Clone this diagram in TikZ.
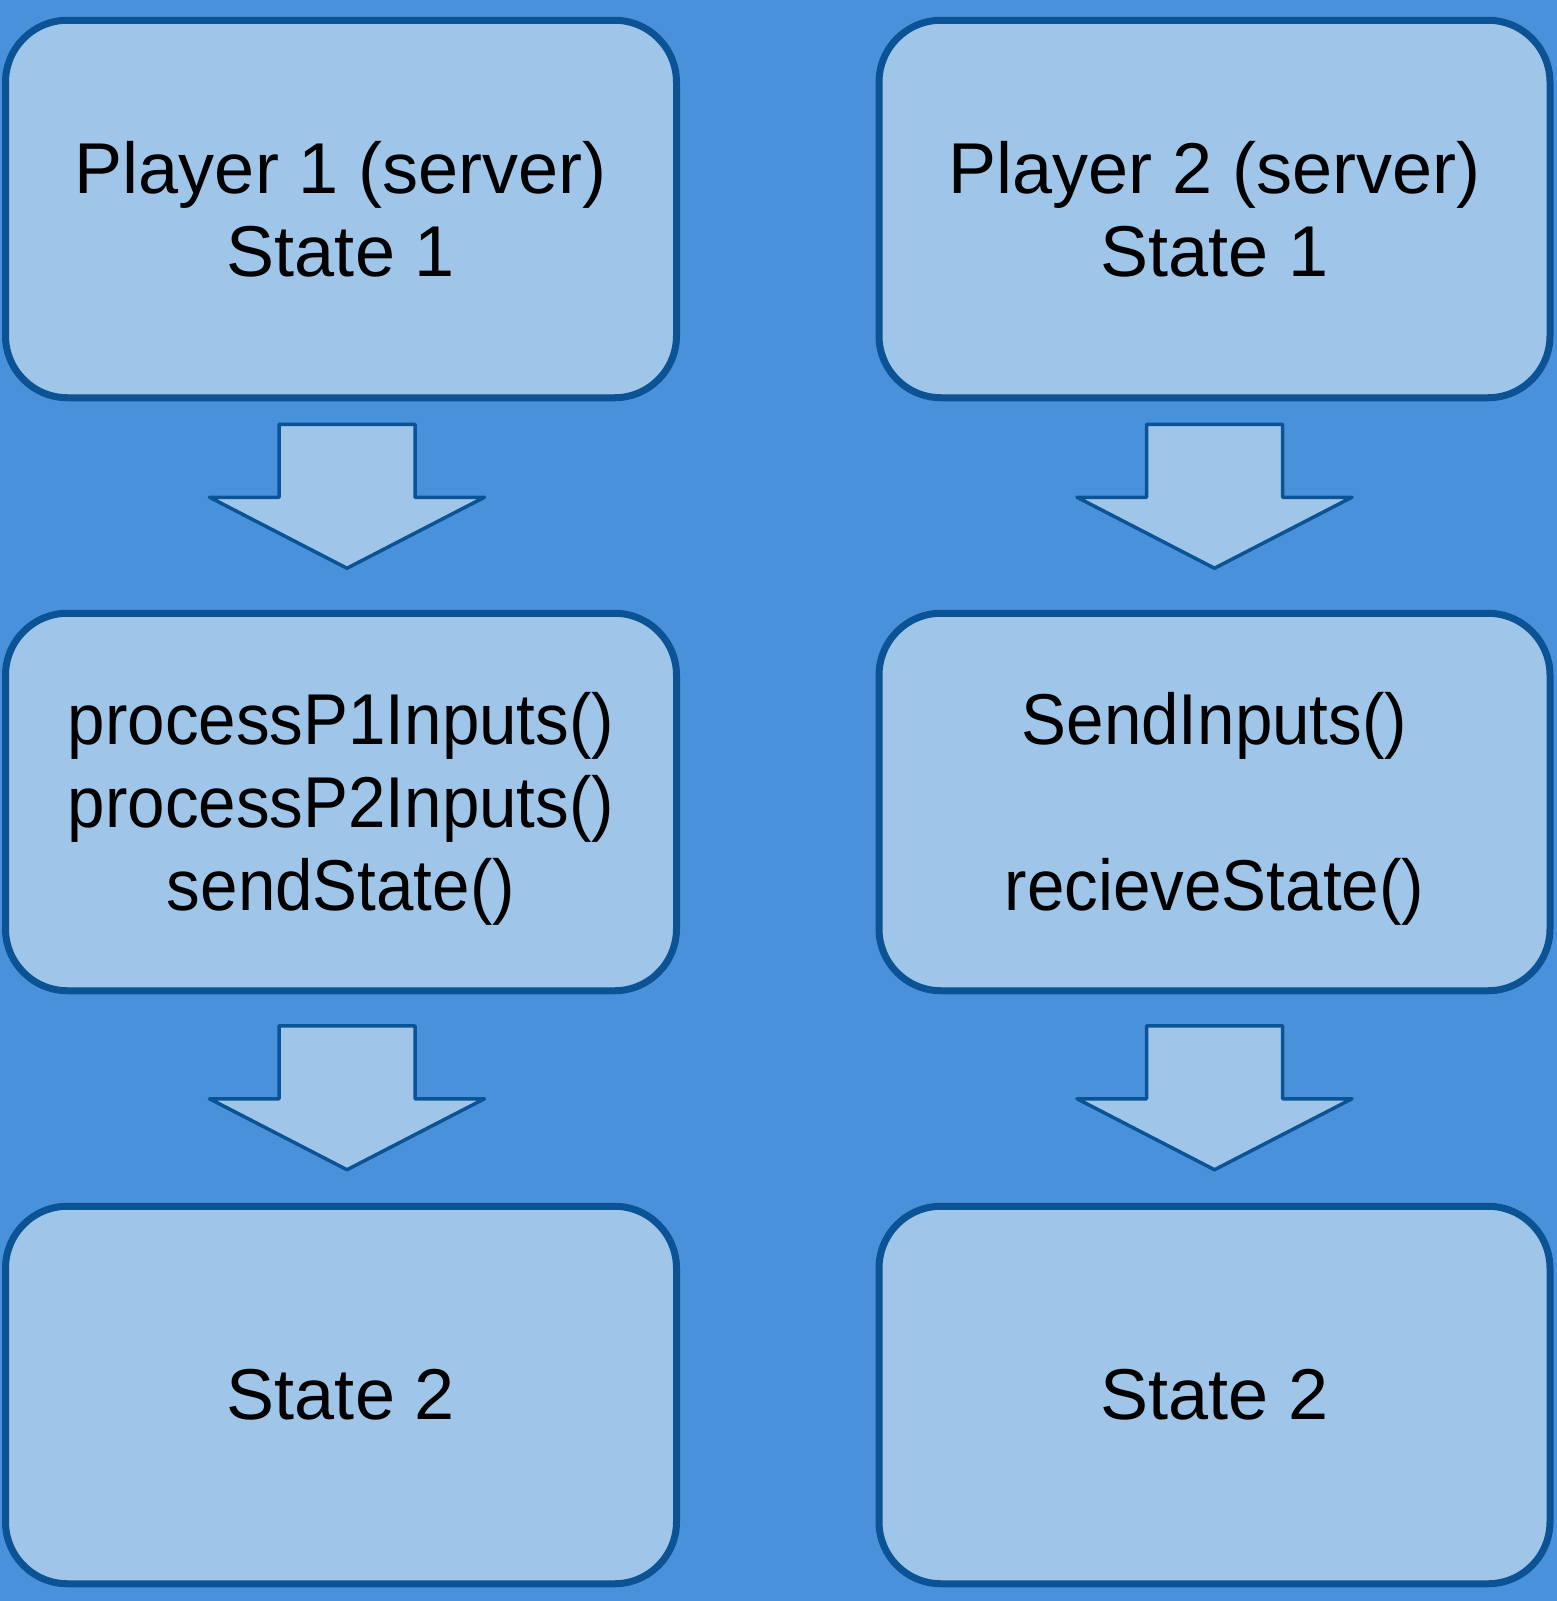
\documentclass[tikz,border=0pt]{standalone}
\usepackage{fontspec}
\setmainfont{Liberation Sans}
\newfontfamily\callfont[FakeStretch=0.935]{Liberation Sans}
\usepackage{tikz}
\usetikzlibrary{positioning, calc}
\definecolor{pagebg}{HTML}{4A91DC}
\definecolor{boxfill}{HTML}{9FC5E8}
\definecolor{boxline}{HTML}{0B5394}
\tikzset{
    statebox/.style={draw=boxline, fill=boxfill, line width=7pt, rounded corners=62pt, minimum width=671pt, minimum height=377.5pt, inner sep=0pt, outer sep=0pt, align=center, font=\fontsize{72}{83}\selectfont},
    callbox/.style={statebox, font=\callfont\fontsize{72}{83}\selectfont, text depth=1pt},
    blockarrow/.style={draw=boxline, fill=boxfill, line width=3.5pt, line join=round}
}
% fat arrow hanging down from a top centre point
\newcommand{\downblock}[1]{\draw[blockarrow] #1 ++(-68,0) -- ++(136,0) -- ++(0,73) -- ++(69.5,0) -- ++(-137.5,71) -- ++(-137.5,-71) -- ++(69.5,0) -- cycle;}
\begin{document}
\begin{tikzpicture}[x=1pt, y=-1pt, node distance=215.5pt and 202.5pt]

        % Sfondo
        \fill[pagebg] (0,0) rectangle (1557,1601);
        \useasboundingbox (0,0) rectangle (1557,1601);

        % Colonna server
        \node (p1start) [statebox] at (341,209) {Player 1 (server)\\State 1};
        \node (p1mid) [callbox, below=of p1start] {processP1Inputs()\\processP2Inputs()\\sendState()};
        \node (p1end) [statebox, below=of p1mid] {State 2};

        % Colonna client
        \node (p2start) [statebox, right=of p1start] {Player 2 (server)\\State 1};
        \node (p2mid) [callbox, below=of p2start] {SendInputs()\\[83pt]recieveState()};
        \node (p2end) [statebox, below=of p2mid] {State 2};

        % Frecce tra gli stati
        \downblock{($(p1start.south)+(6,26.5)$)}
        \downblock{($(p1mid.south)+(6,35)$)}
        \downblock{($(p2start.south)+(0,26.5)$)}
        \downblock{($(p2mid.south)+(0,35)$)}

    \end{tikzpicture}
\end{document}
